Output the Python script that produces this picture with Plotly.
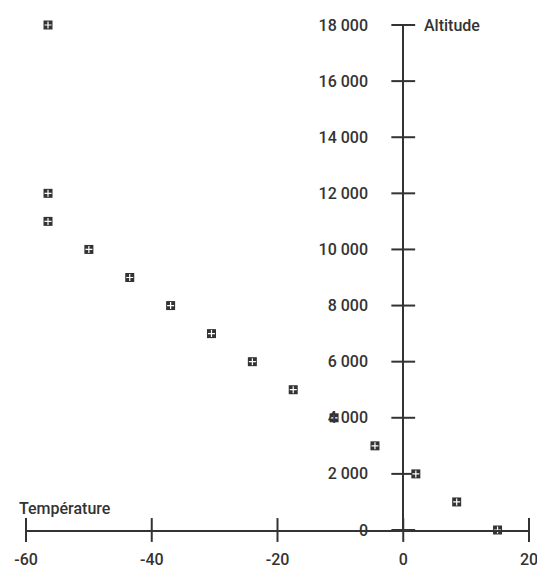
import plotly.graph_objects as go

altitude = [0, 1000, 2000, 3000, 4000, 5000, 6000, 7000, 8000, 9000, 10000, 11000, 12000, 18000]
temperature = [15, 8.5, 2, -4.5, -11, -17.5, -24, -30.5, -37, -43.5, -50, -56.5, -56.5, -56.5]

x_ticks = [-60, -40, -20, 0, 20]
y_ticks = [0, 2000, 4000, 6000, 8000, 10000, 12000, 14000, 16000, 18000]
x_range = [-60, 20]
y_range = [0, 18000]

INK = "#333333"
FONT = "Roboto"

fig = go.Figure()

# crossing tick marks on both axes
fig.add_trace(go.Scatter(
    x=x_ticks, y=[0] * len(x_ticks), mode="markers", cliponaxis=False,
    marker=dict(symbol="line-ns", size=17, line=dict(color=INK, width=2)),
    hoverinfo="skip", showlegend=False))
fig.add_trace(go.Scatter(
    x=[0] * len(y_ticks), y=y_ticks, mode="markers", cliponaxis=False,
    marker=dict(symbol="line-ew", size=17, line=dict(color=INK, width=2)),
    hoverinfo="skip", showlegend=False))

# data points: dark square with white plus
fig.add_trace(go.Scatter(
    x=temperature, y=altitude, mode="markers", cliponaxis=False,
    marker=dict(symbol="square", size=9, color=INK, line=dict(width=0)),
    showlegend=False))
fig.add_trace(go.Scatter(
    x=temperature, y=altitude, mode="markers", cliponaxis=False,
    marker=dict(symbol="cross-thin", size=5, line=dict(color="white", width=1.2)),
    hoverinfo="skip", showlegend=False))

y_pos = (0 - x_range[0]) / (x_range[1] - x_range[0])
tick_font = dict(family=FONT, size=16, color=INK, weight=500)

fig.update_layout(
    width=537, height=571,
    margin=dict(l=26, r=8, t=25, b=41, autoexpand=False),
    paper_bgcolor="white", plot_bgcolor="white",
    separators=", ",
    font=dict(family=FONT, size=16, color=INK),
    xaxis=dict(range=x_range, tickvals=x_ticks, ticktext=[str(v) for v in x_ticks],
               showgrid=False, zeroline=False, automargin=False,
               showline=True, linecolor=INK, linewidth=2, ticks="",
               ticklabeloverflow="allow",
               ticklabelstandoff=14, tickfont=tick_font),
    yaxis=dict(range=y_range, tickvals=y_ticks, tickformat=",d", showgrid=False,
               zeroline=False, showline=True, linecolor=INK, linewidth=2,
               automargin=False, ticklabeloverflow="allow",
               anchor="free", position=y_pos, ticks="", ticklabelstandoff=31,
               tickfont=tick_font),
    annotations=[
        dict(text="Altitude", x=0, y=y_range[1], xref="x", yref="y",
             xanchor="left", yanchor="middle", xshift=19, showarrow=False,
             font=tick_font),
        dict(text="Température", x=x_range[0], y=0, xref="x", yref="y",
             xanchor="left", yanchor="middle", xshift=-9, yshift=22,
             showarrow=False, font=tick_font),
    ],
)

fig.write_html("out.html", config={"displayModeBar": False},
               post_script="document.body.style.margin='0';document.body.style.overflow='hidden';")
